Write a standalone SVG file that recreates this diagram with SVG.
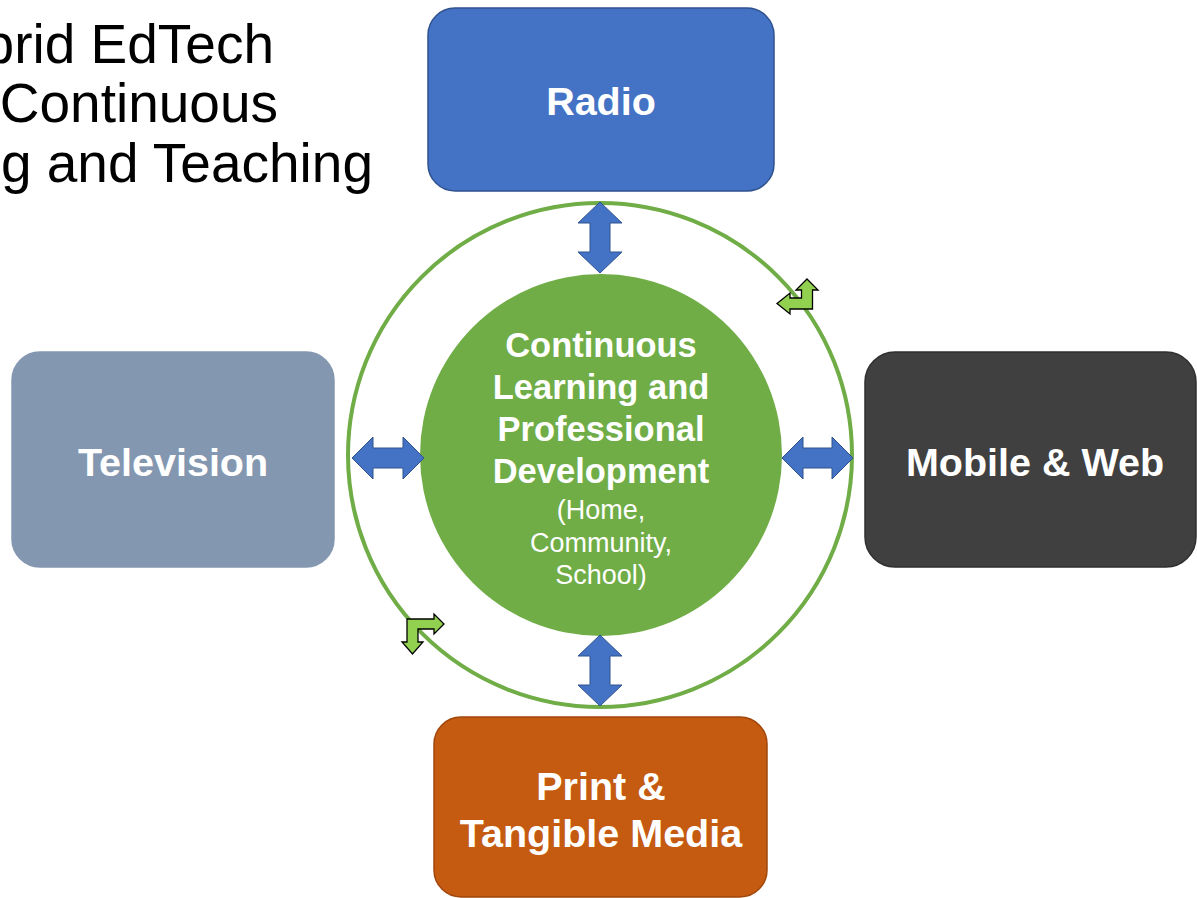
<svg xmlns="http://www.w3.org/2000/svg" width="1197" height="898" viewBox="0 0 1197 898">
<style>
.box{stroke-width:1.5}
.lbl{font-family:"Liberation Sans",Arial,sans-serif;font-weight:bold;font-size:39.5px;fill:#fff;text-anchor:middle}
.title{font-family:"Liberation Sans",Arial,sans-serif;font-size:55px;fill:#000;text-anchor:end}
.ctr{font-family:"Liberation Sans",Arial,sans-serif;font-weight:bold;font-size:34.5px;fill:#fff;text-anchor:middle}
.sub{font-family:"Liberation Sans",Arial,sans-serif;font-size:27px;fill:#fff;text-anchor:middle}
.dbl{fill:#4472C4;stroke:#2F528F;stroke-width:1}
.bent{fill:#92D050;stroke:#000;stroke-width:1.3;stroke-linejoin:miter}
</style>
<rect width="1197" height="898" fill="#fff"/>
<g id="title">
<text class="title" x="274" y="63">Hybrid EdTech</text>
<text class="title" x="278" y="122">for Continuous</text>
<text class="title" x="373" y="182">Learning and Teaching</text>
</g>
<g id="ring">
<circle cx="600" cy="455" r="252" fill="none" stroke="#70AD47" stroke-width="4"/>
</g>
<g id="radio">
<rect class="box" x="428" y="8" width="346" height="183" rx="27" fill="#4472C4" stroke="#2F528F"/>
<text class="lbl" x="601" y="115">Radio</text>
</g>
<g id="television">
<rect class="box" x="12" y="352" width="322" height="215" rx="28" fill="#8497B0" stroke="#8497B0"/>
<text class="lbl" x="173" y="476">Television</text>
</g>
<g id="mobile">
<rect class="box" x="865" y="352" width="331" height="215" rx="30" fill="#404040" stroke="#2f2f2f"/>
<text class="lbl" x="1035" y="476">Mobile &amp; Web</text>
</g>
<g id="print">
<rect class="box" x="434" y="717" width="333" height="180" rx="27" fill="#C55A11" stroke="#A0470C"/>
<text class="lbl" x="601" y="800">Print &amp;</text>
<text class="lbl" x="601" y="847">Tangible Media</text>
</g>
<g id="center">
<circle cx="601" cy="455" r="181" fill="#70AD47"/>
<text class="ctr" x="601" y="357">Continuous</text>
<text class="ctr" x="601" y="399">Learning and</text>
<text class="ctr" x="601" y="441">Professional</text>
<text class="ctr" x="601" y="483">Development</text>
<text class="sub" x="601" y="519">(Home,</text>
<text class="sub" x="601" y="552">Community,</text>
<text class="sub" x="601" y="584">School)</text>
</g>
<g id="connectors">
<polygon class="dbl" points="600,202 622,223 610,223 610,252 622,252 600,273 578,252 590,252 590,223 578,223"/>
<polygon class="dbl" points="600,635 622,656 610,656 610,685 622,685 600,706 578,685 590,685 590,656 578,656"/>
<polygon class="dbl" points="352,458 373,437 373,448 403,448 403,437 424,458 403,479 403,468 373,468 373,479"/>
<polygon class="dbl" points="782,458 803,437 803,448 832,448 832,437 853,458 832,479 832,468 803,468 803,479"/>
<polygon class="bent" points="807,279 818,290 812.5,290 812.5,309 790,309 790,314 777,303.5 790,293 790,298 801.5,298 801.5,290 796,290"/>
<polygon class="bent" points="444,624 434,634 434,629 418,629 418,642 423,642 412.5,654 402,642 407,642 407,619 434,619 434,614"/>
</g>
</svg>
